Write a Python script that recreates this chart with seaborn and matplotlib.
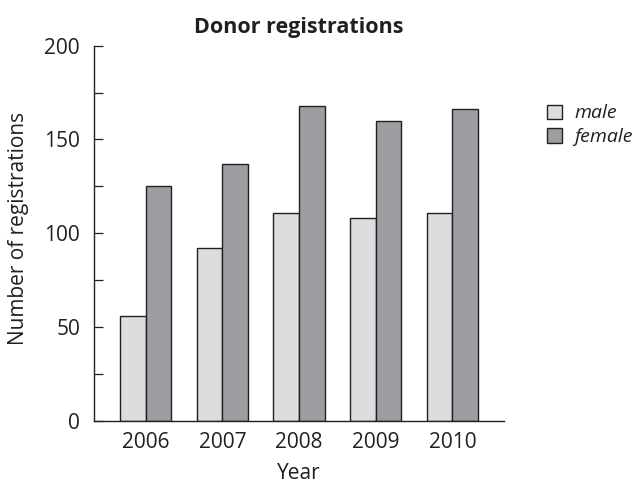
import numpy as np
import pandas as pd
import matplotlib
matplotlib.use("Agg")
import matplotlib.pyplot as plt
from matplotlib.ticker import MultipleLocator
import seaborn as sns

# values
years = ["2006", "2007", "2008", "2009", "2010"]
male = [56, 92, 111, 108, 111]
female = [125, 137, 168, 160, 166]
series_names = ["male", "female"]
y_ticks = [0, 50, 100, 150, 200]

df = pd.DataFrame({
    "Year": years * 2,
    "count": male + female,
    "sex": [series_names[0]] * len(years) + [series_names[1]] * len(years),
})

sns.set_theme(style="white")
plt.rcParams["font.family"] = ["Open Sans", "DejaVu Sans"]
ink = "#231f20"
plt.rcParams["text.color"] = ink
plt.rcParams["axes.labelcolor"] = ink
plt.rcParams["xtick.color"] = ink
plt.rcParams["ytick.color"] = ink

fig = plt.figure(figsize=(6.35, 4.86), dpi=100)
ax = fig.add_axes([0.148, 0.134, 0.646, 0.772])

sns.barplot(
    data=df, x="Year", y="count", hue="sex",
    palette=["#dcdddf", "#9d9ea2"], saturation=1,
    edgecolor=ink, linewidth=1.0, width=0.67, gap=0,
    ax=ax, legend=False,
)

ax.set_xlim(-0.674, 4.674)
ax.set_ylim(0, 200)
ax.set_yticks(y_ticks)
ax.yaxis.set_minor_locator(MultipleLocator(25))
ax.tick_params(axis="y", which="both", direction="in", length=6.5,
               width=0.9, pad=10, labelsize=15, left=True)
ax.tick_params(axis="x", length=0, pad=8, labelsize=15)

for side in ["top", "right"]:
    ax.spines[side].set_visible(False)
for side in ["left", "bottom"]:
    ax.spines[side].set_color(ink)
    ax.spines[side].set_linewidth(1.0)

ax.set_title("Donor registrations", fontsize=15.5, fontweight="bold", pad=9)
ax.set_xlabel("Year", fontsize=15, labelpad=7.5)
ax.set_ylabel("Number of registrations", fontsize=15)
ax.yaxis.set_label_coords(-0.159, 0.513)

handles = [
    plt.Rectangle((0, 0), 1, 1, facecolor=c, edgecolor=ink, linewidth=1.0)
    for c in ["#dcdddf", "#9d9ea2"]
]
fig.legend(
    handles, series_names, loc="upper left", bbox_to_anchor=(0.861, 0.785),
    frameon=False, borderpad=0, borderaxespad=0, handlelength=0.78,
    handleheight=0.75, handletextpad=0.65, labelspacing=0.3,
    prop={"size": 14, "style": "italic"},
)

fig.savefig("out.png", dpi=100)
